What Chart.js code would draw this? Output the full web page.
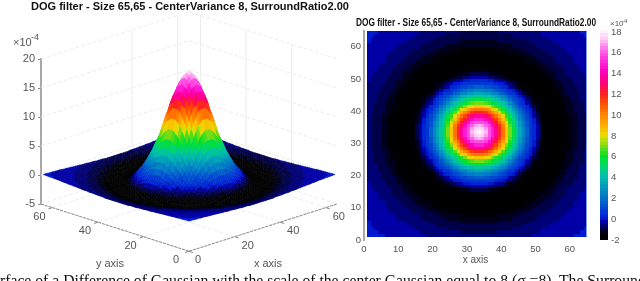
<!DOCTYPE html>
<html lang="en">
<head>
<meta charset="UTF-8">
<title>DOG filter</title>
<script src="https://cdn.jsdelivr.net/npm/chart.js@4"></script>
<style>
  html, body { margin: 0; padding: 0; background: #fff; overflow: hidden; }
  body { width: 640px; height: 281px; position: relative; }
  canvas { position: absolute; top: 0; }
  #caption { position: absolute; left: 0; top: 272px; white-space: nowrap;
    font: 15.7px "Liberation Serif", serif; color: #111; }
</style>
</head>
<body>
<canvas id="surface" width="380" height="281" style="left:0"></canvas>
<canvas id="heatmap" width="272" height="281" style="left:340px"></canvas>
<canvas id="colorbar" width="50" height="281" style="left:590px"></canvas>
<div id="caption">rface of a Difference of Gaussian with the scale of the center Gaussian equal to 8 (σ =8). The Surround</div>
<script>
const titleText = 'DOG filter - Size 65,65 - CenterVariance 8, SurroundRatio2.00';

// filter value (x 1e-4) read off the picture against distance from the centre:
// every quarter cell out to r=22, then every cell
const profileInner = [
  17.8, 17.78, 17.72, 17.62, 17.5, 17.35, 17.2, 17.0, 16.8, 16.55, 16.3, 16.05,
  15.8, 15.5, 15.2, 14.9, 14.6, 14.3, 14.0, 13.7, 13.4, 13.05, 12.7, 12.35,
  12.0, 11.6, 11.15, 10.75, 10.3, 9.9, 9.5, 9.05, 8.6, 8.2, 7.75, 7.4,
  7.0, 6.65, 6.3, 6.0, 5.7, 5.4, 5.1, 4.8, 4.5, 4.2, 3.95, 3.65,
  3.4, 3.15, 2.9, 2.65, 2.4, 2.15, 1.95, 1.7, 1.5, 1.3, 1.1, 0.95,
  0.8, 0.65, 0.5, 0.35, 0.2, 0.05, -0.1, -0.25, -0.4, -0.55, -0.7, -0.85,
  -1.0, -1.1, -1.2, -1.3, -1.4, -1.45, -1.5, -1.55, -1.6, -1.63, -1.66, -1.69,
  -1.72, -1.75, -1.77, -1.79
];
const profileOuter = [
  -1.8, -1.83, -1.75, -1.6, -1.4, -1.25, -1.12, -1.0, -0.9, -0.8, -0.7, -0.62,
  -0.55, -0.48, -0.42, -0.36, -0.3, -0.25, -0.2, -0.16, -0.13, -0.1, -0.07, -0.05, -0.03
];
const gridSize = 65;
const gridCentre = 33;

const zTicks = [-5, 0, 5, 10, 15, 20];
const floorTicks = [0, 20, 40, 60];
const backXTicks = [40, 60];
const backYTicks = [20, 40, 60];
const heatTicks = [0, 10, 20, 30, 40, 50, 60];
const barTicks = [-2, 0, 2, 4, 6, 8, 10, 12, 14, 16, 18];

// colormap
const mapValues = [-2, -1.4, -1.1, -0.7, -0.35, -0.2, 0, 1, 2, 3, 4, 5, 6, 7, 8, 9, 10, 11, 12, 13, 14, 15, 16, 17, 18];
const mapColors = [
  [0,0,0], [0,0,5], [0,0,45], [0,0,100], [0,0,155], [0,0,180], [0,25,210], [0,70,210], [0,115,200], [0,150,190], [0,190,175],
  [0,215,110], [0,225,40], [130,220,20], [240,220,0], [255,170,0], [255,130,0], [255,80,0], [255,30,40],
  [255,0,120], [255,0,190], [255,40,220], [255,100,230], [255,190,245], [255,250,255]
];
const mapLevels = 64;

function valueAt(i, j) {
  const r = Math.hypot(i - gridCentre, j - gridCentre);
  const k = Math.round(r * 4);
  return k < profileInner.length ? profileInner[k] : profileOuter[Math.round(r) - 22];
}

function colorFor(v) {
  const step = 20 / mapLevels;
  const q = Math.min(18, -2 + (Math.floor((v + 2) / step) + 0.5) * step);
  let k = 0;
  while (k < mapValues.length - 2 && q > mapValues[k + 1]) k++;
  const f = Math.max(0, (q - mapValues[k]) / (mapValues[k + 1] - mapValues[k]));
  const c = mapColors[k].map((a, n) => Math.round(a + (mapColors[k + 1][n] - a) * f));
  return 'rgb(' + c.join(',') + ')';
}

Chart.defaults.animation = false;
Chart.defaults.responsive = false;
Chart.defaults.plugins.legend.display = false;
Chart.defaults.plugins.tooltip.enabled = false;
Chart.defaults.font.family = '"Liberation Sans", Arial, sans-serif';

const grey = '#555';

// ---------- left: 3d surface, the y scale doubles as the z axis ----------
const floorRise = 0.1253;   // z units the floor climbs per grid unit

function project(x, y, z) {
  return { h: x - y, v: z + (x + y - gridSize) * floorRise };
}

const surfaceFaces = [];
for (let i = 1; i < gridSize; i++) {
  for (let j = 1; j < gridSize; j++) surfaceFaces.push({ i, j, v: valueAt(i, j) });
}
surfaceFaces.sort((a, b) => (b.i + b.j) - (a.i + a.j));

const surfacePlugin = {
  id: 'surface3d',
  beforeDatasetsDraw(chart) {
    const ctx = chart.ctx, sx = chart.scales.x, sy = chart.scales.y;
    const px = (x, y, z) => {
      const p = project(x, y, z);
      return [sx.getPixelForValue(p.h), sy.getPixelForValue(p.v)];
    };
    const line = (a, b) => {
      ctx.beginPath(); ctx.moveTo(a[0], a[1]); ctx.lineTo(b[0], b[1]); ctx.stroke();
    };
    ctx.save();
    // back walls and floor
    ctx.strokeStyle = '#ececec';
    ctx.lineWidth = 1;
    backXTicks.forEach(t => line(px(t, gridSize, -5), px(t, gridSize, 20)));
    backYTicks.forEach(t => line(px(gridSize, t, -5), px(gridSize, t, 20)));
    ctx.setLineDash([4, 2]);
    zTicks.forEach(z => {
      line(px(0, gridSize, z), px(gridSize, gridSize, z));
      line(px(gridSize, gridSize, z), px(gridSize, 0, z));
    });
    floorTicks.forEach(t => {
      line(px(t, 0, -5), px(t, gridSize, -5));
      line(px(0, t, -5), px(gridSize, t, -5));
    });
    // front axes
    ctx.strokeStyle = '#888';
    ctx.setLineDash([3, 1]);
    line(px(0, gridSize, -5), px(0, 0, -5));
    line(px(0, 0, -5), px(gridSize, 0, -5));
    ctx.setLineDash([]);
    floorTicks.forEach(t => {
      const yp = px(0, t, -5), xp = px(t, 0, -5);
      line(yp, [yp[0] - 4, yp[1] + 1.3]);
      line(xp, [xp[0] + 4, xp[1] + 1.3]);
    });

    surfaceFaces.forEach(f => {
      const a = px(f.i, f.j, valueAt(f.i, f.j));
      const b = px(f.i + 1, f.j, valueAt(f.i + 1, f.j));
      const c = px(f.i + 1, f.j + 1, valueAt(f.i + 1, f.j + 1));
      const d = px(f.i, f.j + 1, valueAt(f.i, f.j + 1));
      ctx.fillStyle = ctx.strokeStyle = colorFor(f.v);
      ctx.lineWidth = 0.6;
      ctx.beginPath();
      ctx.moveTo(a[0], a[1]); ctx.lineTo(b[0], b[1]); ctx.lineTo(c[0], c[1]); ctx.lineTo(d[0], d[1]);
      ctx.closePath();
      ctx.fill();
      ctx.stroke();
    });

    // floor tick labels
    ctx.fillStyle = grey;
    ctx.font = '11px "Liberation Sans", sans-serif';
    ctx.textAlign = 'center';
    ctx.textBaseline = 'middle';
    floorTicks.forEach(t => {
      const yp = px(0, t, -5), xp = px(t, 0, -5);
      ctx.fillText(String(t), yp[0] - 13, yp[1] + 9);
      ctx.fillText(String(t), xp[0] + (t ? 13 : 9), xp[1] + 9);
    });
    ctx.fillText('y axis', 110, 264);
    ctx.fillText('x axis', 268, 264);
    ctx.textAlign = 'left';
    ctx.fillText('\u00d710', 13, 43);
    ctx.font = '9px "Liberation Sans", sans-serif';
    ctx.fillText('-4', 31, 38);
    ctx.restore();
  }
};

new Chart(document.getElementById('surface'), {
  type: 'scatter',
  data: { datasets: [{ data: surfaceFaces.map(f => {
    const p = project(f.i, f.j, f.v);
    return { x: p.h, y: p.v };
  }), pointRadius: 0 }] },
  plugins: [surfacePlugin],
  options: {
    layout: { padding: { bottom: 77 } },
    plugins: {
      title: {
        display: true, text: titleText, color: '#111',
        font: { size: 11, weight: 'bold' }, padding: { top: 0, bottom: 45.8 }
      }
    },
    scales: {
      x: { display: false, min: -65, max: 83.8 },
      y: {
        min: -5, max: 20,
        afterFit: s => { s.width = 41; },
        afterBuildTicks: s => { s.ticks = zTicks.map(value => ({ value })); },
        border: { display: true, color: '#a8a8a8', width: 2 },
        grid: { drawOnChartArea: false, tickLength: 3, color: '#888' },
        ticks: { color: grey, font: { size: 11 }, padding: 3 }
      }
    }
  }
});

// ---------- right: heatmap ----------
const heatCells = [];
for (let i = 1; i < gridSize; i++) {
  for (let j = 1; j < gridSize; j++) heatCells.push({ x: i, y: j, v: valueAt(i, j) });
}

// paints each point of the first dataset as a cell one unit wide and tall
const cellPlugin = {
  id: 'cells',
  beforeDatasetsDraw(chart) {
    const ctx = chart.ctx, sx = chart.scales.x, sy = chart.scales.y;
    chart.data.datasets[0].data.forEach(c => {
      const l = sx.getPixelForValue(c.x), r = sx.getPixelForValue(c.x + (c.w || 1));
      const t = sy.getPixelForValue(c.y + (c.h || 1)), b = sy.getPixelForValue(c.y);
      ctx.fillStyle = colorFor(c.v);
      ctx.fillRect(Math.round(l), Math.round(t), Math.round(r) - Math.round(l), Math.round(b) - Math.round(t));
    });
  }
};

// right edge of the image and the title, which sits a little right of the axes' centre
const heatExtras = {
  id: 'heatExtras',
  afterDatasetsDraw(chart) {
    const ctx = chart.ctx, sx = chart.scales.x, sy = chart.scales.y;
    ctx.save();
    ctx.strokeStyle = '#7f9bea';
    ctx.lineWidth = 1;
    const r = Math.round(sx.getPixelForValue(gridSize)) - 0.5;
    ctx.beginPath();
    ctx.moveTo(r, sy.getPixelForValue(gridSize));
    ctx.lineTo(r, sy.getPixelForValue(1));
    ctx.stroke();
    ctx.fillStyle = '#111';
    ctx.font = 'bold 10.5px "Liberation Sans", sans-serif';
    ctx.textAlign = 'center';
    ctx.textBaseline = 'middle';
    ctx.fillText(titleText, 136, 23, 240);
    ctx.restore();
  }
};

new Chart(document.getElementById('heatmap'), {
  type: 'scatter',
  data: { datasets: [{ data: heatCells, pointRadius: 0 }] },
  plugins: [cellPlugin, heatExtras],
  options: {
    layout: { padding: { top: 30.6, right: 25, bottom: 15 } },
    scales: {
      x: {
        min: 0, max: gridSize,
        afterFit: s => { s.height = 26; },
        afterBuildTicks: s => { s.ticks = heatTicks.map(value => ({ value })); },
        border: { display: false },
        grid: { display: false, drawTicks: false },
        ticks: { color: grey, font: { size: 9.5 }, padding: 4, maxRotation: 0 },
        title: { display: true, text: 'x axis', color: grey, font: { size: 10 }, padding: { top: 0, bottom: 0 } }
      },
      y: {
        min: 0, max: gridSize,
        afterFit: s => { s.width = 24; },
        afterBuildTicks: s => { s.ticks = heatTicks.map(value => ({ value })); },
        border: { display: true, color: '#a8a8a8', width: 2 },
        grid: { display: false, drawTicks: false },
        ticks: { color: grey, font: { size: 9.5 }, padding: 3 }
      }
    }
  }
});

// ---------- colorbar ----------
const barCells = [];
for (let n = 0; n < mapLevels; n++) {
  const lo = -2 + n * 20.2 / mapLevels;
  barCells.push({ x: 0, w: 1, y: lo, h: 20.2 / mapLevels, v: lo });
}

const barExponent = {
  id: 'barExponent',
  afterDraw(chart) {
    const ctx = chart.ctx;
    ctx.save();
    ctx.fillStyle = grey;
    ctx.textBaseline = 'middle';
    ctx.font = '8px "Liberation Sans", sans-serif';
    ctx.fillText('\u00d710', 20, 24);
    ctx.font = '6px "Liberation Sans", sans-serif';
    ctx.fillText('-4', 32, 21);
    ctx.restore();
  }
};

new Chart(document.getElementById('colorbar'), {
  type: 'scatter',
  data: { datasets: [{ data: barCells, pointRadius: 0 }] },
  plugins: [cellPlugin, barExponent],
  options: {
    layout: { padding: { left: 10, top: 30, bottom: 41 } },
    scales: {
      x: { display: false, min: 0, max: 1 },
      y: {
        position: 'right',
        min: -2, max: 18.2,
        afterFit: s => { s.width = 32; },
        afterBuildTicks: s => { s.ticks = barTicks.map(value => ({ value })); },
        border: { display: false },
        grid: { display: false, drawTicks: false },
        ticks: { color: grey, font: { size: 9.5 }, padding: 3 }
      }
    }
  }
});
</script>
</body>
</html>
